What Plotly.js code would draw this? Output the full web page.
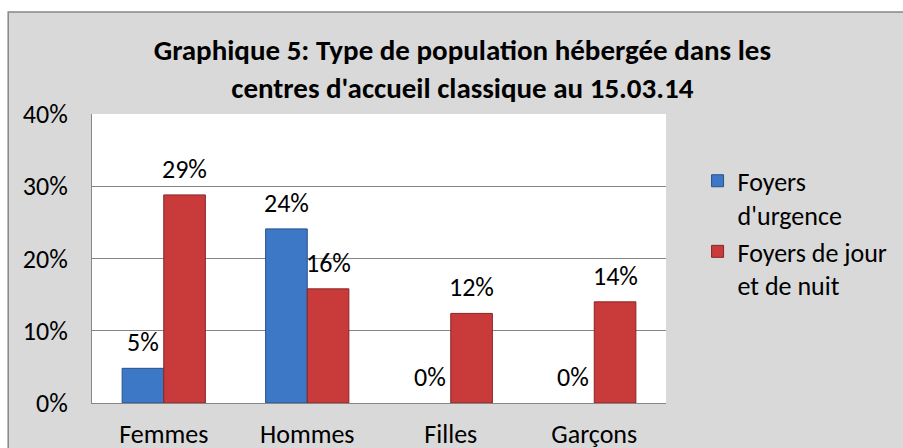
<!DOCTYPE html>
<html>
<head>
<meta charset="utf-8">
<script src="https://cdn.plot.ly/plotly-3.0.1.min.js"></script>
<style>
body{margin:0;background:#fff;}
#chart{width:903px;height:448px;}
</style>
</head>
<body>
<div id="chart"></div>
<script>
// data
const categories = ["Femmes", "Hommes", "Filles", "Garçons"];
const urgence = [0.048, 0.241, 0, 0];
const jourNuit = [0.288, 0.158, 0.124, 0.140];
const seriesNames = ["Foyers<br>d'urgence", "Foyers de jour<br>et de nuit"];
const yTicks = [0, 0.1, 0.2, 0.3, 0.4];

const font = "Carlito, Calibri, 'Open Sans', sans-serif";

// no outline on empty bars
function lineWidths(vals){
  return vals.map(v => v === 0 ? 0 : 1);
}

const traces = [
  {
    type: "bar",
    name: seriesNames[0],
    x: categories,
    y: urgence,
    marker: {color: "#3C78C6", line: {color: "#24528E", width: lineWidths(urgence)}}
  },
  {
    type: "bar",
    name: seriesNames[1],
    x: categories,
    y: jourNuit,
    marker: {color: "#C93B3B", line: {color: "#8A2424", width: lineWidths(jourNuit)}}
  }
];

/* data labels above each bar */
let labels = [];
[urgence, jourNuit].forEach((vals, s) => {
  vals.forEach((v, i) => {
    labels.push({
      x: categories[i],
      y: v,
      xref: "x",
      yref: "y",
      text: Math.round(v * 100) + "%",
      showarrow: false,
      xshift: s === 0 ? -21 : 21,
      yshift: 26,
      yanchor: "middle",
      font: {family: font, size: 26, color: "#000"}
    });
  });
});

const layout = {
  width: 903,
  height: 448,
  margin: {l: 92, r: 237, t: 114, b: 45, autoexpand: false},
  paper_bgcolor: "#ffffff",
  plot_bgcolor: "#ffffff",
  font: {family: font, size: 26, color: "#000"},
  title: {
    text: "<b>Graphique 5: Type de population hébergée dans les<br>centres d'accueil classique au 15.03.14</b>",
    font: {family: font, size: 29, color: "#000"},
    xref: "container",
    x: 0.512,
    xanchor: "center",
    yref: "container",
    y: 0.866,
    yanchor: "middle"
  },
  barmode: "group",
  bargap: 0.42,
  bargroupgap: 0,
  xaxis: {
    showline: true,
    linecolor: "#868686",
    ticks: "",
    tickfont: {family: font, size: 26},
    ticklabelstandoff: 8
  },
  yaxis: {
    range: [0, 0.4],
    tickvals: yTicks,
    tickformat: ".0%",
    showgrid: true,
    gridcolor: "#868686",
    showline: true,
    linecolor: "#868686",
    zeroline: false,
    ticks: "",
    tickfont: {family: font, size: 26},
    ticklabelstandoff: 18
  },
  legend: {
    x: 1.055,
    y: 0.85,
    xanchor: "left",
    yanchor: "top",
    valign: "top",
    tracegroupgap: 10,
    itemwidth: 30,
    font: {family: font, size: 26},
    bgcolor: "rgba(0,0,0,0)"
  },
  shapes: [
    {type: "rect", xref: "paper", yref: "paper", layer: "below",
     x0: -0.146, x1: 1.42, y0: -0.3, y1: 1.353,
     fillcolor: "#D9D9D9", line: {color: "#868686", width: 1.5}},
    {type: "rect", xref: "paper", yref: "paper", layer: "below",
     x0: 0, x1: 1, y0: 0, y1: 1,
     fillcolor: "#ffffff", line: {width: 0}}
  ],
  annotations: labels
};

Plotly.newPlot("chart", traces, layout, {displayModeBar: false, staticPlot: true});
</script>
</body>
</html>
